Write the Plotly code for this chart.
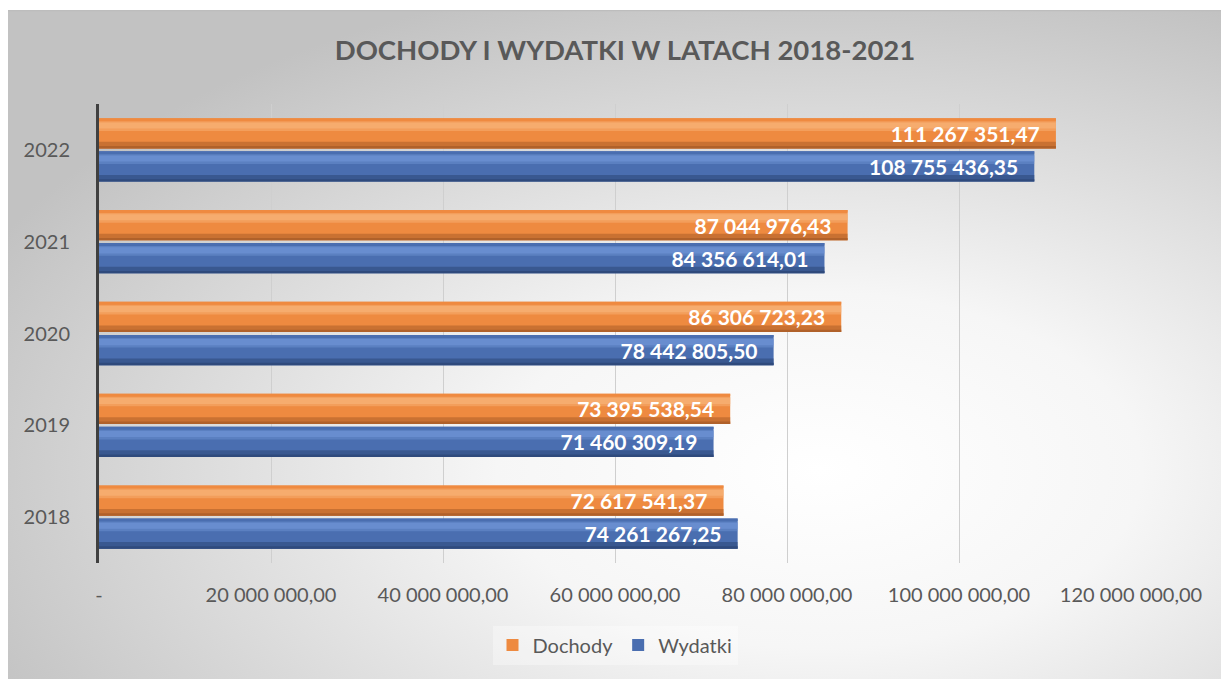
import base64
import plotly.graph_objects as go

years = ["2018", "2019", "2020", "2021", "2022"]
dochody = [72617541.37, 73395538.54, 86306723.23, 87044976.43, 111267351.47]
wydatki = [74261267.25, 71460309.19, 78442805.50, 84356614.01, 108755436.35]
tick_vals = [0, 20000000, 40000000, 60000000, 80000000, 100000000, 120000000]
tick_text = ["-", "20 000 000,00", "40 000 000,00", "60 000 000,00",
             "80 000 000,00", "100 000 000,00", "120 000 000,00"]
title_text = "DOCHODY I WYDATKI W LATACH 2018-2021"

W, H = 1229, 679
L, R, T, B = 91, 106, 96, 124
pw, ph = W - L - R, H - T - B

FONT = "Lato"
GRAY = "#595959"

# radial gradient background as svg image
bx, by = 0, 2
bw, bh = W - bx, H - by
svg = f'''<svg xmlns="http://www.w3.org/2000/svg" width="{bw}" height="{bh}" viewBox="0 0 {bw} {bh}" preserveAspectRatio="none">
<defs><radialGradient id="g" cx="0.66" cy="0.68" r="0.75" gradientUnits="objectBoundingBox">
<stop offset="0" stop-color="#ffffff"/><stop offset="0.35" stop-color="#f6f6f6"/><stop offset="1" stop-color="#c2c2c2"/></radialGradient></defs>
<rect x="0" y="0" width="{bw}" height="{bh}" fill="url(#g)"/>
<line x1="0" y1="0.5" x2="{bw}" y2="0.5" stroke="#bdbdbd" stroke-width="1.5"/>
</svg>'''
src = "data:image/svg+xml;base64," + base64.b64encode(svg.encode()).decode()

BW = 0.33
series = [
    # name, values, offset, main, light, dark, rank
    ("Wydatki", wydatki, -0.345, "#4a6eb0", "#7196d8", "#2f4a7c", 2),
    ("Dochody", dochody, 0.015, "#ee8a40", "#f9b57c", "#b0612a", 1),
]

fig = go.Figure()
for name, vals, off, main, light, dark, rank in series:
    fig.add_trace(go.Bar(
        y=years, x=vals, orientation="h", name=name, offset=off, width=BW,
        marker=dict(color=main, line=dict(width=0)), legendrank=rank,
        showlegend=True, hoverinfo="skip"))
    fig.add_trace(go.Bar(
        y=years, x=vals, orientation="h", offset=off, width=BW * 0.22,
        marker=dict(color=dark, line=dict(width=0), opacity=0.6),
        showlegend=False, hoverinfo="skip"))
    fig.add_trace(go.Bar(
        y=years, x=vals, orientation="h", offset=off, width=BW * 0.08,
        marker=dict(color=dark, line=dict(width=0)),
        showlegend=False, hoverinfo="skip"))
    fig.add_trace(go.Bar(
        y=years, x=vals, orientation="h", offset=off + BW * 0.58, width=BW * 0.32,
        marker=dict(color=light, line=dict(width=0), opacity=0.45),
        showlegend=False, hoverinfo="skip"))
    fig.add_trace(go.Bar(
        y=years, x=vals, orientation="h", offset=off + BW * 0.66, width=BW * 0.2,
        marker=dict(color=light, line=dict(width=0), opacity=0.6),
        showlegend=False, hoverinfo="skip"))
    fig.add_trace(go.Bar(
        y=years, x=vals, orientation="h", offset=off + BW * 0.92, width=BW * 0.08,
        marker=dict(color=main, line=dict(width=0), opacity=0.9),
        showlegend=False, hoverinfo="skip"))

for name, vals, off, main, light, dark, rank in series:
    fig.add_trace(go.Bar(
        y=years, x=vals, orientation="h", offset=off, width=BW,
        marker=dict(color="rgba(0,0,0,0)", line=dict(width=0)),
        texttemplate="%{x:,.2f}\u2002\u2009", textposition="inside",
        insidetextanchor="end", textangle=0, constraintext="none",
        textfont=dict(family=FONT, size=21, color="white", weight="bold"),
        showlegend=False, hoverinfo="skip"))

fig.update_layout(
    width=W, height=H,
    margin=dict(l=L, r=R, t=T, b=B, autoexpand=False),
    paper_bgcolor="white", plot_bgcolor="rgba(0,0,0,0)",
    barmode="overlay",
    separators=", ",
    font=dict(family=FONT, color=GRAY, size=20),
    title=dict(text=title_text, x=617 / W, xanchor="center", xref="container",
               y=1 - 42 / H, yanchor="middle", yref="container",
               font=dict(family=FONT, size=27.5, color=GRAY, weight="bold")),
    xaxis=dict(range=[0, 120000000], tickvals=tick_vals, ticktext=tick_text,
               showgrid=True, gridcolor="#cfcfcf", gridwidth=1, zeroline=False,
               showline=False, ticks="", ticklabelstandoff=18,
               tickfont=dict(family=FONT, size=20, color=GRAY), fixedrange=True),
    yaxis=dict(type="category", range=[-0.5, 4.5], showgrid=False,
               showline=True, linecolor="#404040", linewidth=3, ticks="",
               ticklabelstandoff=22, zeroline=False,
               tickfont=dict(family=FONT, size=20, color=GRAY)),
    legend=dict(orientation="h", x=0.5, xanchor="center", y=(H - B - 637) / ph, yanchor="middle",
                bgcolor="rgba(255,255,255,0.35)", font=dict(family=FONT, size=20, color=GRAY),
                traceorder="normal", itemwidth=30),
    images=[dict(source=src, xref="paper", yref="paper",
                 x=(bx - L) / pw, y=(H - B - by) / ph,
                 sizex=bw / pw, sizey=bh / ph, sizing="stretch",
                 xanchor="left", yanchor="top", layer="below")],
    showlegend=True,
)

fig.write_html("out.html")
